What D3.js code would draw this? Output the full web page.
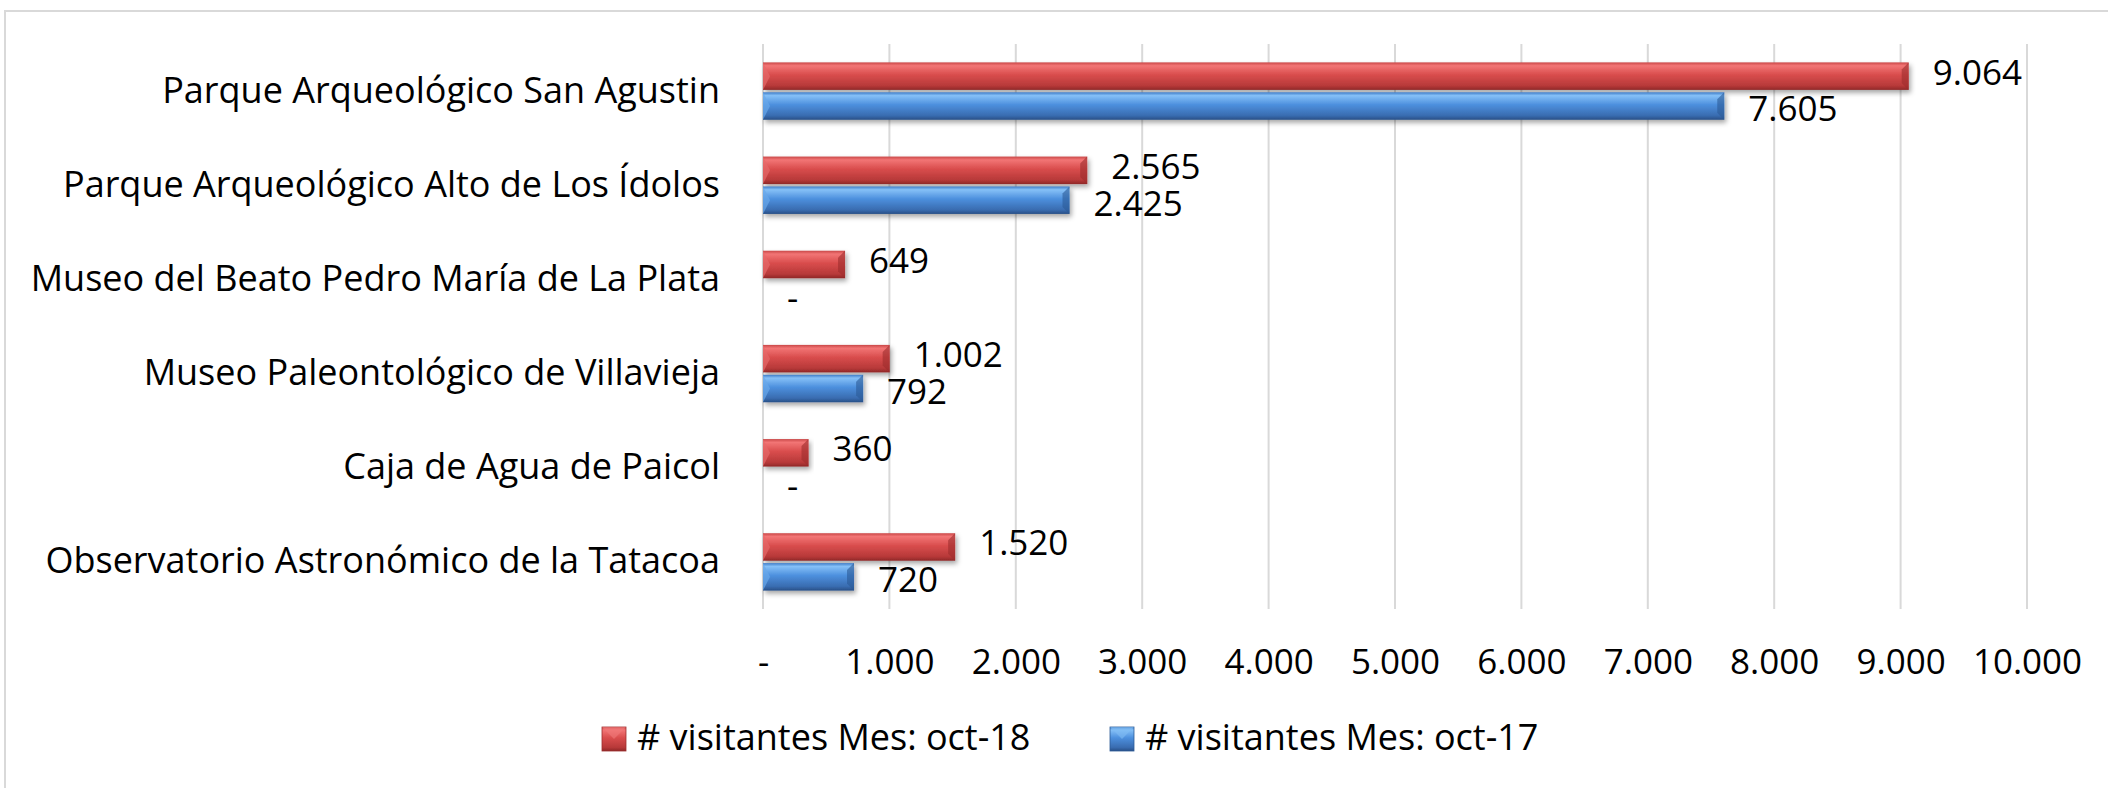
<!DOCTYPE html>
<html>
<head>
<meta charset="utf-8">
<script src="https://cdn.jsdelivr.net/npm/d3@7"></script>
<style>
  body { margin: 0; background: #fff; }
  svg { display: block; }
</style>
</head>
<body>
<div id="chart"></div>
<script>
// Data
const categories = [
    'Parque Arqueológico San Agustin',
    'Parque Arqueológico Alto de Los Ídolos',
    'Museo del Beato Pedro María de La Plata',
    'Museo Paleontológico de Villavieja',
    'Caja de Agua de Paicol',
    'Observatorio Astronómico de la Tatacoa'
];
const seriesNames = ['# visitantes Mes: oct-18', '# visitantes Mes: oct-17'];
const visitsOct18 = [9064, 2565, 649, 1002, 360, 1520];
const visitsOct17 = [7605, 2425, 0, 792, 0, 720];
const xTicks = [0, 1000, 2000, 3000, 4000, 5000, 6000, 7000, 8000, 9000, 10000];

const width = 2108;
const height = 788;
const margin = { top: 44, right: 81, bottom: 179, left: 763 };

const locale = d3.formatLocale({ decimal: ',', thousands: '.', grouping: [3], currency: ['$', ''] });
const fmt = v => v === 0 ? '-' : locale.format(',d')(v);

const svg = d3.select('#chart')
    .append('svg')
    .attr('width', width)
    .attr('height', height);

// gradients / shadow
const defs = svg.append('defs');
const grads = {
    red: [['0%', '#c94747'], ['12%', '#f27575'], ['45%', '#d94d4d'], ['85%', '#b73939'], ['100%', '#8f2727']],
    blue: [['0%', '#3f7cc8'], ['12%', '#85c0f7'], ['45%', '#4d90de'], ['85%', '#396cb0'], ['100%', '#284f86']]
};
Object.entries(grads).forEach(([k, stops]) => {
    const g = defs.append('linearGradient').attr('id', 'g-' + k)
        .attr('x1', 0).attr('y1', 0).attr('x2', 0).attr('y2', 1);
    stops.forEach(s => g.append('stop').attr('offset', s[0]).attr('stop-color', s[1]));
});
defs.append('filter').attr('id', 'shadow')
    .attr('x', '-5%').attr('y', '-30%').attr('width', '115%').attr('height', '180%')
    .append('feDropShadow')
    .attr('dx', 2).attr('dy', 3).attr('stdDeviation', 2.5)
    .attr('flood-color', '#000').attr('flood-opacity', 0.35);

// outer frame (only top and left edges visible)
svg.append('path')
    .attr('d', `M5,${height} V11 H${width}`)
    .attr('fill', 'none')
    .attr('stroke', '#d9d9d9')
    .attr('stroke-width', 2);

const x = d3.scaleLinear()
    .domain([0, 10000])
    .range([margin.left, width - margin.right]);

const y = d3.scaleBand()
    .domain(categories)
    .range([margin.top, height - margin.bottom])
    .paddingInner(0.34)
    .paddingOuter(0.17);

const sub = d3.scaleBand()
    .domain(seriesNames)
    .range([0, y.bandwidth()])
    .padding(0.08);

// gridlines
svg.append('g')
    .selectAll('line')
    .data(xTicks)
    .join('line')
    .attr('x1', d => x(d))
    .attr('x2', d => x(d))
    .attr('y1', margin.top)
    .attr('y2', height - margin.bottom)
    .attr('stroke', '#d9d9d9')
    .attr('stroke-width', 2);

// x axis labels
const xAxis = svg.append('g')
    .attr('transform', `translate(0,${height - margin.bottom})`)
    .call(d3.axisBottom(x).tickValues(xTicks).tickSize(0).tickPadding(40).tickFormat(fmt));
xAxis.select('.domain').remove();
xAxis.selectAll('text')
    .attr('font-family', "'Open Sans', sans-serif")
    .attr('font-size', '35px')
    .attr('fill', '#000');

// category labels
const yAxis = svg.append('g')
    .attr('transform', `translate(${margin.left},0)`)
    .call(d3.axisLeft(y).tickSize(0).tickPadding(43));
yAxis.select('.domain').remove();
yAxis.selectAll('text')
    .attr('font-family', "'Open Sans', sans-serif")
    .attr('font-size', '36px')
    .attr('fill', '#000');

// bars
const rows = categories.map((c, i) => [
    { cat: c, series: seriesNames[0], value: visitsOct18[i], color: 'red' },
    { cat: c, series: seriesNames[1], value: visitsOct17[i], color: 'blue' }
]).flat();

const barG = svg.append('g');
const bars = barG.selectAll('g.bar')
    .data(rows.filter(d => d.value > 0))
    .join('g')
    .attr('class', 'bar');

bars.append('rect')
    .attr('x', x(0))
    .attr('y', d => y(d.cat) + sub(d.series))
    .attr('width', d => x(d.value) - x(0))
    .attr('height', sub.bandwidth())
    .attr('fill', d => `url(#g-${d.color})`)
    .attr('filter', 'url(#shadow)');

// bevelled ends
const bev = 7;
bars.append('path')
    .attr('d', d => {
        const x0 = x(0), y0 = y(d.cat) + sub(d.series), h = sub.bandwidth();
        return `M${x0},${y0} L${x0 + bev},${y0 + h / 2} L${x0},${y0 + h} Z`;
    })
    .attr('fill', d => d.color === 'red' ? '#e66a6a' : '#6aa8ea')
    .attr('opacity', 0.7);
bars.append('path')
    .attr('d', d => {
        const x1 = x(d.value), y0 = y(d.cat) + sub(d.series), h = sub.bandwidth();
        return `M${x1},${y0} L${x1 - bev},${y0 + bev} L${x1 - bev},${y0 + h - bev} L${x1},${y0 + h} Z`;
    })
    .attr('fill', d => d.color === 'red' ? '#9c2d2d' : '#2c5a96')
    .attr('opacity', 0.6);

// value labels
svg.append('g')
    .selectAll('text')
    .data(rows)
    .join('text')
    .attr('x', d => x(d.value) + 24)
    .attr('y', d => y(d.cat) + sub(d.series) + sub.bandwidth() / 2 + (d.color === 'red' ? -1 : 6))
    .attr('dominant-baseline', 'middle')
    .attr('font-family', "'Open Sans', sans-serif")
    .attr('font-size', '35px')
    .attr('fill', '#000')
    .text(d => fmt(d.value));

// legend
const legendColors = ['red', 'blue'];
const legendX = [602, 1110];
const legend = svg.append('g')
    .selectAll('g')
    .data(seriesNames)
    .join('g')
    .attr('transform', (d, i) => `translate(${legendX[i]},727)`);
legend.append('rect')
    .attr('width', 24)
    .attr('height', 24)
    .attr('fill', (d, i) => `url(#g-${legendColors[i]})`)
    .attr('stroke', (d, i) => i === 0 ? '#9c2d2d' : '#2c5a96')
    .attr('stroke-width', 0.8);
legend.append('path')
    .attr('d', 'M0,0 L12,12 L24,0 Z')
    .attr('fill', (d, i) => i === 0 ? '#f07a7a' : '#80bcf4')
    .attr('opacity', 0.6);
legend.append('text')
    .attr('x', 35)
    .attr('y', 13)
    .attr('dominant-baseline', 'middle')
    .attr('font-family', "'Open Sans', sans-serif")
    .attr('font-size', '36px')
    .attr('fill', '#000')
    .text(d => d);
</script>
</body>
</html>
